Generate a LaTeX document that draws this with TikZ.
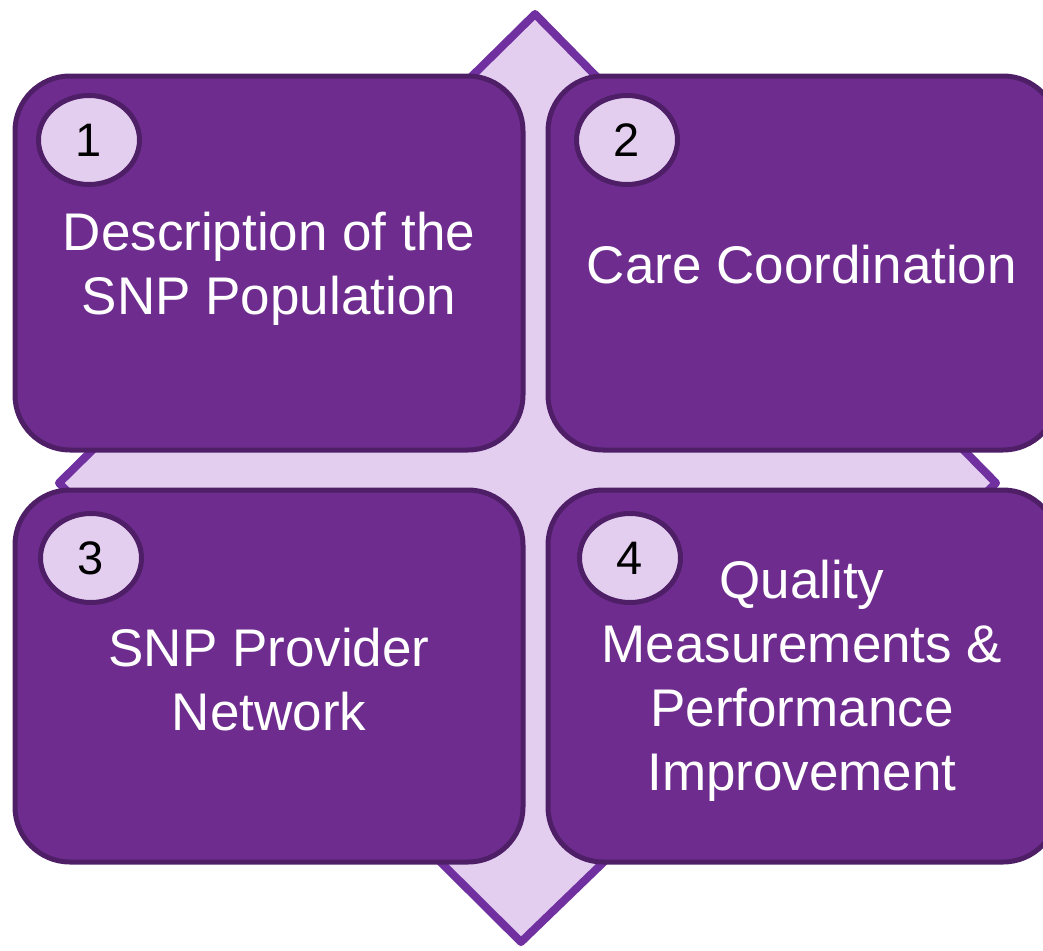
\documentclass[tikz,border=0pt]{standalone}
\usepackage{fontspec}
\setmainfont{Liberation Sans}
\definecolor{boxfill}{HTML}{6E2D8E}
\definecolor{boxline}{HTML}{4E1F66}
\definecolor{lav}{HTML}{E4CEF0}
\definecolor{dline}{HTML}{7030A0}
\tikzset{
  quad/.style={draw=boxline, line width=5pt, fill=boxfill, rounded corners=55pt},
  numcirc/.style={ellipse, draw=boxline, line width=5pt, fill=lav, minimum width=101pt, minimum height=89pt, inner sep=0pt, font=\fontsize{47}{52}\selectfont, text=black},
  label/.style={align=center, text=white, font=\fontsize{53}{64}\selectfont, inner sep=0pt}
}
\usetikzlibrary{shapes.geometric}
\begin{document}
\begin{tikzpicture}[x=1pt,y=-1pt]
\useasboundingbox (0,0) rectangle (1043,950);
\clip (0,0) rectangle (1043,950);
% diamond
\coordinate (dt) at (535,14);
\coordinate (dr) at (996,483);
\coordinate (db) at (521,942);
\coordinate (dl) at (59,483);
\draw[draw=dline, fill=lav, line width=8pt, line join=round] (dt) -- (dr) -- (db) -- (dl) -- cycle;
% boxes
\draw[quad] (15,76) rectangle (523,450);
\draw[quad] (548,76) rectangle (1058,450);
\draw[quad] (15,490) rectangle (523,862);
\draw[quad] (548,490) rectangle (1058,862);
% circles
\node[numcirc] (c1) at (89,140) {1};
\node[numcirc] (c2) at (627,140) {2};
\node[numcirc] (c3) at (91,558) {3};
\node[numcirc] (c4) at (630,558) {4};
% texts
\node[label] (t1) at (269,269) {Description of the\\SNP Population};
\node[label] (t2) at (802,265) {Care Coordination};
\node[label] (t3) at (269,680) {SNP Provider\\Network};
\node[label] (t4) at (802,681) {Quality\\Measurements \&\\Performance\\Improvement};
\end{tikzpicture}
\end{document}
